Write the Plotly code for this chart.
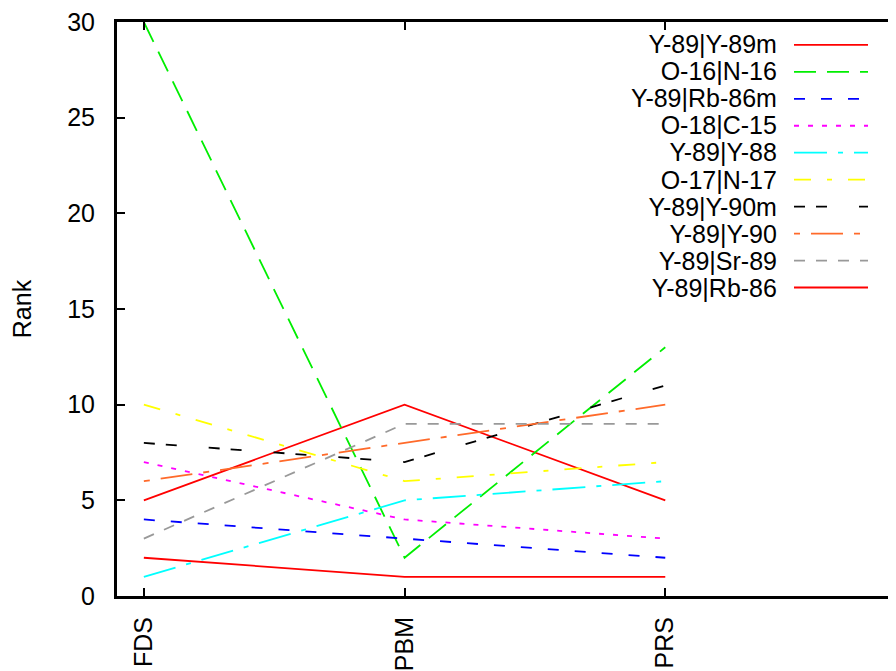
import plotly.graph_objects as go

categories = ["FDS", "PBM", "PRS"]
series_names = ["Y-89|Y-89m", "O-16|N-16", "Y-89|Rb-86m", "O-18|C-15", "Y-89|Y-88",
                "O-17|N-17", "Y-89|Y-90m", "Y-89|Y-90", "Y-89|Sr-89", "Y-89|Rb-86"]
y89_y89m = [5, 10, 5]
o16_n16 = [30, 2, 13]
y89_rb86m = [4, 3, 2]
o18_c15 = [7, 4, 3]
y89_y88 = [1, 5, 6]
o17_n17 = [10, 6, 7]
y89_y90m = [8, 7, 11]
y89_y90 = [6, 8, 10]
y89_sr89 = [3, 9, 9]
y89_rb86 = [2, 1, 1]
series_values = [y89_y89m, o16_n16, y89_rb86m, o18_c15, y89_y88,
                 o17_n17, y89_y90m, y89_y90, y89_sr89, y89_rb86]
y_ticks = [0, 5, 10, 15, 20, 25, 30]

colors = ["#ff0000", "#00ee00", "#0000ff", "#ff00ff", "#00ffff",
          "#ffff00", "#000000", "#ff6a2a", "#999999", "#ff0000"]
dashes = ["solid", "22px,11px", "11px,16px", "5px,9px", "33px,11px,5px,11px",
          "17px,16px,5px,16px", "11px,11px,11px,32px", "6px,11px,32px,11px",
          "11px,11px", "solid"]

# page has an 8px body margin: figure pixel = page pixel - 8
OFF = 8
W, H = 888, 663
L, R, T, B = 117 - OFF, 0, 19 - OFF, 75
FONT = "Liberation Sans, Arial, Helvetica, sans-serif"
FS = 25
LFS = 25

fig = go.Figure()
for name, vals, c, d in zip(series_names, series_values, colors, dashes):
    fig.add_trace(go.Scatter(x=categories, y=vals, mode="lines", name=name,
                             line=dict(color=c, width=1.8, dash=d), showlegend=False))
# right-side mirrored ticks (no border line)
fig.add_trace(go.Scatter(x=[], y=[], yaxis="y2", showlegend=False))

# custom gnuplot-style legend (text right aligned, sample on the right)
pw, ph = W - L - R, H - T - B
def px(xp):
    return (xp - OFF - L) / pw
def py(yp):
    return 1 - (yp - OFF - T) / ph

row0, step = 42, 27.1
n = len(series_names)
for i, (c, d) in enumerate(zip(colors, dashes)):
    yy = row0 + i * step
    fig.add_shape(type="line", xref="paper", yref="paper",
                  x0=px(794), x1=px(868), y0=py(yy), y1=py(yy),
                  line=dict(color=c, width=1.8, dash=d))
legend_text = "<br>".join(f'<span style="font-size:{LFS}px">{s}</span>' for s in series_names)
fig.add_annotation(x=px(779), y=py(row0 + (n - 1) * step / 2), xref="paper", yref="paper",
                   text=legend_text, showarrow=False, xanchor="right", yanchor="middle",
                   align="right",
                   font=dict(family=FONT, size=step / 1.3, color="#000000"))

fig.update_layout(
    width=W, height=H,
    margin=dict(l=L, r=R, t=T, b=B, pad=0),
    paper_bgcolor="white", plot_bgcolor="white",
    font=dict(family=FONT, size=FS, color="#000000"),
    xaxis=dict(type="category", range=[-0.103, 2.885], showgrid=False, zeroline=False,
               showline=True, linecolor="black", linewidth=3, mirror="ticks",
               ticks="inside", ticklen=8, tickwidth=2, tickcolor="black",
               tickangle=-90, ticklabelstandoff=8,
               tickfont=dict(family=FONT, size=FS)),
    yaxis=dict(range=[0, 30], tickvals=y_ticks, showgrid=False, zeroline=False,
               showline=True, linecolor="black", linewidth=3,
               ticks="inside", ticklen=8, tickwidth=2, tickcolor="black",
               ticklabelstandoff=14, ticklabeloverflow="allow",
               title=dict(text="Rank", standoff=30, font=dict(family=FONT, size=FS)),
               tickfont=dict(family=FONT, size=FS)),
    yaxis2=dict(range=[0, 30], tickvals=y_ticks, overlaying="y", side="right",
                anchor="x", showgrid=False, zeroline=False, showline=False,
                ticks="inside", ticklen=6, tickwidth=2, tickcolor="black",
                showticklabels=False),
)

fig.write_html("out.html")
